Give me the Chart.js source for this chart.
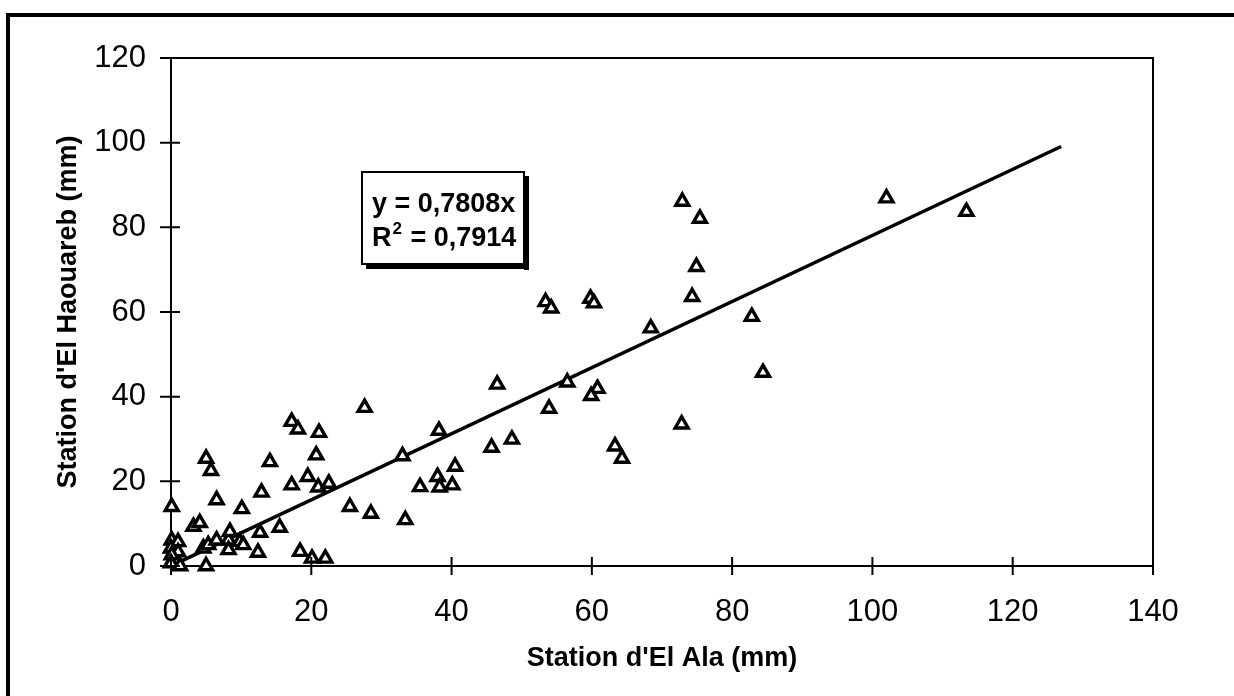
<!DOCTYPE html>
<html><head><meta charset="utf-8">
<script src="https://cdn.jsdelivr.net/npm/chart.js@4.4.1/dist/chart.umd.min.js"></script>
<style>html,body{margin:0;padding:0;background:#fff;}#wrap{width:1234px;height:696px;}</style>
</head><body><div id="wrap"><canvas id="c" width="1234" height="696"></canvas></div>
<script>
// Data
const elAla = [0.1,0.1,1.0,0.0,1.0,0.1,0.0,1.3,5.0,3.2,4.1,4.6,5.3,6.5,8.2,9.8,8.2,10.3,8.4,12.7,12.4,15.5,6.5,10.1,12.9,5.0,5.7,14.1,17.2,18.1,21.1,20.7,19.5,17.2,21.0,22.5,18.4,20.1,22.0,27.6,25.5,28.5,33.0,33.4,35.5,38.0,38.3,40.1,40.5,38.2,45.7,48.6,46.5,53.9,56.5,60.8,59.9,53.4,54.2,59.8,60.3,63.3,64.3,68.4,72.8,72.9,75.4,74.9,74.3,82.8,84.4,102.0,113.4];
const elHaouareb = [14.0,6.1,5.7,4.2,3.3,2.6,0.7,0.0,0.0,9.3,10.2,4.2,5.0,6.1,6.1,5.7,3.8,5.0,8.1,7.9,3.2,9.1,15.6,13.5,17.4,25.4,22.5,24.6,34.1,32.3,31.5,26.2,21.1,19.1,18.6,19.5,3.4,1.8,1.8,37.4,14.0,12.4,26.0,10.9,18.7,21.1,18.6,19.1,23.5,32.0,28.0,29.9,42.9,37.2,43.4,41.9,40.2,62.4,60.9,63.2,62.1,28.3,25.4,56.2,33.5,86.1,82.1,70.7,63.6,58.9,45.7,86.9,83.7];
const xTicks = [0,20,40,60,80,100,120,140];
const yTicks = [0,20,40,60,80,100,120];
const trendX = [1.0, 126.9];
const trendY = [0.8, 99.1];
const eqLine1 = 'y = 0,7808x';
const eqR = 'R';
const eqSup = '2';
const eqLine2 = ' = 0,7914';
const xTitle = "Station d'El Ala (mm)";
const yTitle = "Station d'El Haouareb (mm)";

const FONT = "'Liberation Sans', Arial, Helvetica, sans-serif";

const framePlugin = {
  id: 'frame',
  beforeDraw(chart) {
    const ctx = chart.ctx;
    ctx.save();
    ctx.fillStyle = '#fff';
    ctx.fillRect(0, 0, chart.width, chart.height);
    ctx.strokeStyle = '#000';
    ctx.lineWidth = 4;
    ctx.beginPath();
    ctx.moveTo(8, 696); ctx.lineTo(8, 15); ctx.lineTo(1234, 15);
    ctx.stroke();
    ctx.restore();
  },
  afterDatasetsDraw(chart) {
    const ctx = chart.ctx;
    const a = chart.chartArea;
    const xs = chart.scales.x, ys = chart.scales.y;
    ctx.save();
    ctx.strokeStyle = '#000';
    ctx.lineWidth = 2;
    ctx.beginPath();
    ctx.moveTo(a.left, a.top); ctx.lineTo(a.right, a.top); ctx.lineTo(a.right, a.bottom);
    ctx.stroke();
    ctx.beginPath();
    xTicks.forEach(v => { const p = xs.getPixelForValue(v); ctx.moveTo(p, a.bottom - 9); ctx.lineTo(p, a.bottom + 9); });
    yTicks.forEach(v => { const p = ys.getPixelForValue(v); ctx.moveTo(a.left - 11, p); ctx.lineTo(a.left + 9, p); });
    ctx.stroke();
    // equation box
    const bx = 362, by = 172, bw = 162, bh = 92;
    ctx.fillStyle = '#fff';
    ctx.fillRect(bx, by, bw, bh);
    ctx.lineWidth = 2;
    ctx.strokeRect(bx, by, bw, bh);
    ctx.fillStyle = '#000';
    ctx.fillRect(bx + bw, by + 4, 5, bh + 2);
    ctx.fillRect(bx + 4, by + bh, bw + 1, 5);
    ctx.font = 'bold 27px ' + FONT;
    ctx.textBaseline = 'middle';
    ctx.textAlign = 'left';
    ctx.fillText(eqLine1, 372, 205);
    ctx.fillText(eqR, 372, 239);
    const rw = ctx.measureText(eqR).width;
    ctx.font = 'bold 17px ' + FONT;
    ctx.fillText(eqSup, 372 + rw + 1, 229);
    const sw = ctx.measureText(eqSup).width;
    ctx.font = 'bold 27px ' + FONT;
    ctx.fillText(eqLine2, 372 + rw + sw + 2, 239);
    ctx.restore();
  }
};

new Chart(document.getElementById('c'), {
  data: {
    datasets: [
      {
        type: 'scatter',
        data: elAla.map((x, i) => ({x: x, y: elHaouareb[i]})),
        pointStyle: 'triangle',
        pointRadius: 7.5,
        pointBorderWidth: 3.4,
        pointBackgroundColor: '#fff',
        pointBorderColor: '#000',
        clip: false,
        order: 0
      },
      {
        type: 'line',
        data: trendX.map((x, i) => ({x: x, y: trendY[i]})),
        borderColor: '#000',
        borderWidth: 3.5,
        pointRadius: 0,
        fill: false,
        tension: 0,
        order: 1
      }
    ]
  },
  options: {
    responsive: false,
    animation: false,
    events: [],
    layout: { padding: { left: 0, top: 58, right: 81, bottom: 0 } },
    plugins: { legend: { display: false }, tooltip: { enabled: false } },
    scales: {
      x: {
        type: 'linear', min: 0, max: 140,
        afterBuildTicks: s => { s.ticks = xTicks.map(v => ({value: v})); },
        afterFit: s => { s.height = 130; },
        grid: { display: false, drawTicks: false },
        border: { display: true, color: '#000', width: 2 },
        ticks: { color: '#000', padding: 28, font: { family: FONT, size: 31 } },
        title: { display: true, text: xTitle, color: '#000', font: { family: FONT, size: 27, weight: 'bold' }, padding: { top: 0, bottom: 21 } }
      },
      y: {
        type: 'linear', min: 0, max: 120,
        afterBuildTicks: s => { s.ticks = yTicks.map(v => ({value: v})); },
        afterFit: s => { s.width = 171; },
        grid: { display: false, drawTicks: false },
        border: { display: true, color: '#000', width: 2 },
        ticks: { color: '#000', padding: 25, font: { family: FONT, size: 31 } },
        title: { display: true, text: yTitle, color: '#000', font: { family: FONT, size: 27, weight: 'bold' }, padding: { top: 52, bottom: 0 } }
      }
    }
  },
  plugins: [framePlugin]
});
</script>
</body></html>
